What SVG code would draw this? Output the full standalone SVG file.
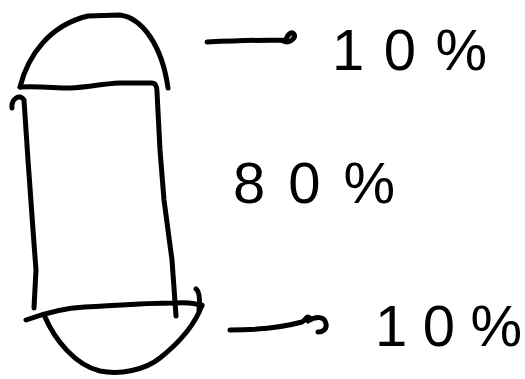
<svg xmlns="http://www.w3.org/2000/svg" width="525" height="379" viewBox="0 0 525 379">
<style>
.s{fill:none;stroke:#000;stroke-width:5;stroke-linecap:round;stroke-linejoin:round}
.t{font-family:"Liberation Sans",Arial,sans-serif;font-size:58px;fill:#000}
</style>
<rect width="525" height="379" fill="#fff"/>
<g id="capsule">
<path class="s" d="M20,87 C28,55 50,25 88,16 L120,15 C142,18 162,45 168,88"/>
<path class="s" d="M20,87 C40,86 55,88 70,88 C90,87 100,84 120,83 L152,83 Q157,83 157,92 L160,150 L164,200 L172,260 L176,316"/>
<path class="s" d="M12,108 C11,99 20,93 24,100 L28,160 L33,230 L36,270 L34,308"/>
<path class="s" d="M26,320 C45,313 65,308 85,307 C110,306 140,303 175,303 C190,302 198,304 202,306"/>
<path class="s" d="M196,289 C200,292 200,300 199,310"/>
<path class="s" d="M45,317 C55,340 75,365 100,371 C120,375 145,370 160,358 C180,342 195,325 202,305"/>
</g>
<g id="connectors">
<path class="s" d="M207,42 C230,41 260,40 285,40 M283,41 C290,44 296,38 294,34 C291,31 287,35 286,40"/>
<path class="s" d="M230,330 C255,330 280,328 302,322 C308,318 306,315 310,318 M308,321 C316,316 325,316 326,324 C327,330 322,332 318,332"/>
</g>
<g id="label-top"><text class="t" x="332" y="70" textLength="155" lengthAdjust="spacing">10%</text></g>
<g id="label-middle"><text class="t" x="233" y="203" textLength="162" lengthAdjust="spacing">80%</text></g>
<g id="label-bottom"><text class="t" x="375" y="346" textLength="147" lengthAdjust="spacing">10%</text></g>
</svg>
